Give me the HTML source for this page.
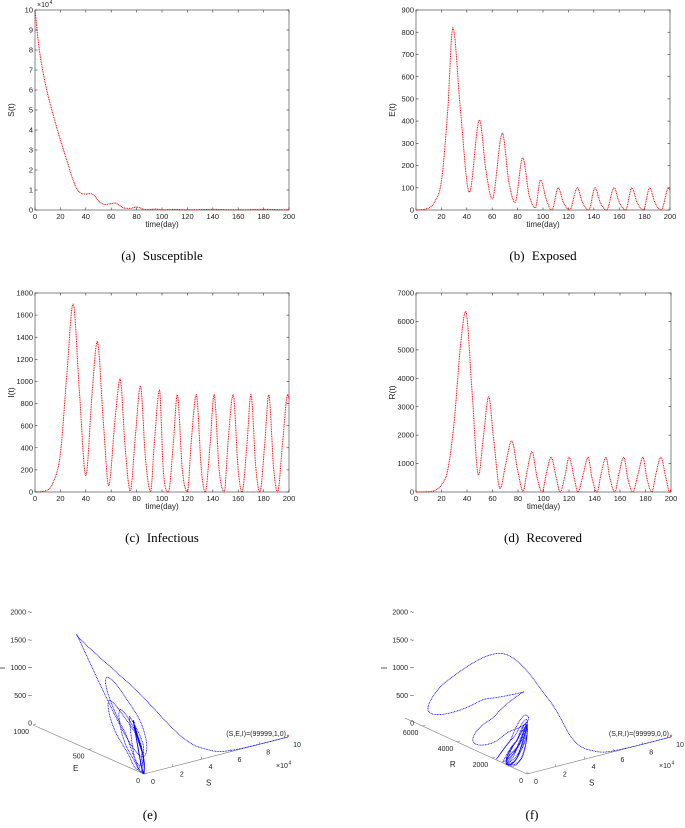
<!DOCTYPE html>
<html><head><meta charset="utf-8"><style>
html,body{margin:0;padding:0;background:#fff;}
svg{display:block;font-family:"Liberation Sans",sans-serif;}
.cap{font-family:"Liberation Serif",serif;font-size:13px;word-spacing:4px;}
</style></head><body>
<svg id="fig" width="685" height="828" viewBox="0 0 685 828" xmlns="http://www.w3.org/2000/svg">
<text class="cap" x="162" y="260" text-anchor="middle">(a)  Susceptible</text>
<text class="cap" x="543" y="260" text-anchor="middle">(b)  Exposed</text>
<text class="cap" x="162" y="542" text-anchor="middle">(c)  Infectious</text>
<text class="cap" x="543" y="542" text-anchor="middle">(d)  Recovered</text>
<text class="cap" x="150" y="819" text-anchor="middle">(e)</text>
<text class="cap" x="532" y="819" text-anchor="middle">(f)</text>
</svg>
<script>
const sTimes=[0,3,6,10,15,20,25,30,33,36,40,44,47,50,55,60,63,66,70,75,80,83,86,90,95,100,110,120,140,160,180,200];
const sVals=[10,8.2,7,5.8,4.6,3.5,2.5,1.5,1.05,0.85,0.8,0.82,0.7,0.45,0.28,0.32,0.35,0.25,0.1,0.08,0.15,0.1,0.02,0.02,0.05,0.01,0.03,0.01,0.03,0.01,0.03,0.01];
const eTimes=[0,8,15,20,25,29,35,42,50,55,60,68,73,78,84,89,94,98,103,107,112,116,121,127,131,136,141,145,150,156,160,165,170,174,179,184,188,193,199,200];
const eVals=[0,5,40,130,450,820,450,80,405,180,50,345,130,35,235,70,10,135,40,0,100,35,0,100,35,0,100,35,0,100,35,0,100,35,0,100,35,0,100,85];
const iTimes=[0,8,14,20,25,30,35,40,45,49,54,58,63,67,71,75,79,83,87,91,94,98,101,105,109,112,116,120,123,127,131,134,138,141,145,149,152,156,160,163,167,170,174,177,181,184,188,191,195,199,200];
const iVals=[0,10,80,350,1050,1700,900,150,900,1360,600,60,650,1020,400,10,500,960,300,5,450,920,200,0,450,880,200,0,450,880,200,0,450,880,200,0,450,880,200,0,450,880,200,0,450,880,200,0,450,880,840];
const rTimes=[0,10,15,20,25,30,35,39,44,49,53,57,61,66,70,75,80,84,87,91,95,99,102,106,110,113,117,120,124,127,131,135,138,142,145,149,152,156,159,163,166,170,174,178,181,185,188,192,196,199,200];
const rVals=[0,10,60,250,800,2500,5200,6350,3500,600,2000,3350,1800,120,900,1800,700,30,700,1420,500,0,600,1220,500,0,600,1220,500,0,600,1220,500,0,600,1220,500,0,600,1220,500,0,600,1220,500,0,600,1220,500,0,100];
const NS="http://www.w3.org/2000/svg";
const fig=document.getElementById('fig');
function el(tag,attrs,parent,txt){const e=document.createElementNS(NS,tag);for(const k in attrs)e.setAttribute(k,attrs[k]);if(txt!==undefined)e.textContent=txt;(parent||fig).appendChild(e);return e;}
function interp(T,V){const n=T.length,d=[],m=[];for(let i=0;i<n-1;i++)d.push((V[i+1]-V[i])/(T[i+1]-T[i]));
m[0]=d[0];m[n-1]=d[n-2];for(let i=1;i<n-1;i++){m[i]=(d[i-1]*d[i]<=0)?0:(d[i-1]+d[i])/2;}
for(let i=0;i<n-1;i++){if(d[i]===0){m[i]=0;m[i+1]=0;continue;}const a=m[i]/d[i],b=m[i+1]/d[i],s=a*a+b*b;if(s>9){const t=3/Math.sqrt(s);m[i]=t*a*d[i];m[i+1]=t*b*d[i];}}
return function(t){let i=0;while(i<n-2&&t>T[i+1])i++;const h=T[i+1]-T[i],u=(t-T[i])/h,u2=u*u,u3=u2*u;
return (2*u3-3*u2+1)*V[i]+(u3-2*u2+u)*h*m[i]+(-2*u3+3*u2)*V[i+1]+(u3-u2)*h*m[i+1];};}
const fS=interp(sTimes,sVals),fE=interp(eTimes,eVals),fI=interp(iTimes,iVals),fR=interp(rTimes,rVals);
function chart(name,x0,y0,x1,y1,ymax,ystep,f,ylab,yfmt){
 const g=el('g',{},fig);
 const xs=t=>x0+(x1-x0)*t/200, ys=v=>y1-(y1-y0)*v/ymax;
 el('rect',{x:x0,y:y0,width:x1-x0,height:y1-y0,fill:'none',stroke:'#333','stroke-width':0.6},g);
 for(let t=0;t<=200;t+=20){const x=xs(t);el('line',{x1:x,x2:x,y1:y1,y2:y1-2.5,stroke:'#333','stroke-width':0.6},g);el('line',{x1:x,x2:x,y1:y0,y2:y0+2.5,stroke:'#333','stroke-width':0.6},g);
  const tx=el('text',{x:x,y:y1+9,'font-size':7.5,'text-anchor':'middle',fill:'#222'},g,String(t));}
 for(let v=0;v<=ymax+1e-9;v+=ystep){const y=ys(v);el('line',{x1:x0,x2:x0+2.5,y1:y,y2:y,stroke:'#333','stroke-width':0.6},g);el('line',{x1:x1,x2:x1-2.5,y1:y,y2:y,stroke:'#333','stroke-width':0.6},g);
  const tx=el('text',{x:x0-2,y:y+2.6,'font-size':7.5,'text-anchor':'end',fill:'#222'},g,yfmt?yfmt(v):String(v));}
 const xl=el('text',{x:(x0+x1)/2,y:y1+17,'font-size':8,'text-anchor':'middle',fill:'#222'},g,'time(day)');
 const yl=el('text',{x:0,y:0,'font-size':8.5,'text-anchor':'middle',fill:'#222',transform:`translate(${x0-21},${(y0+y1)/2}) rotate(-90)`},g,ylab);
 let p='';for(let t=0;t<=200;t+=0.25){p+=(t?'L':'M')+xs(t).toFixed(1)+','+ys(Math.max(0,f(t))).toFixed(1);}
 const pl=el('path',{d:p,fill:'none',stroke:'#f00','stroke-width':1,'stroke-dasharray':'1 0.7'},g);
 return g;}
const ga=chart('chart-susceptible',35,10,289,210,10,1,fS,'S(t)',v=>String(Math.round(v)));
const ex1=el('text',{x:37,y:7,'font-size':7,fill:'#222'},ga,'×10');


el('text',{x:49.5,y:4,'font-size':5,fill:'#222'},ga,'4');
chart('chart-exposed',416,10,670,210,900,100,fE,'E(t)');
chart('chart-infectious',35,293,289,492,1800,200,fI,'I(t)');
chart('chart-recovered',416,293,671,492,7000,1000,fR,'R(t)');
function chart3(name,ox,oy,fY,yMax,yTicks,yLab,label,lx,ioff){
 const g=el('g',{},fig);
 const P=(s,y,i)=>[ox+144*s/1e5-(lx.dx)*y/yMax, oy-37*s/1e5-(lx.dy)*y/yMax-111*i/2000];
 const ax=(a,b)=>{const A=P(...a),B=P(...b);el('line',{x1:A[0],y1:A[1],x2:B[0],y2:B[1],stroke:'#777','stroke-width':0.6},g);};
 ax([0,0,0],[1e5,0,0]);ax([0,0,0],[0,yMax,0]);
 for(let s=0;s<=10;s+=2){const A=P(s*1e4,0,0);el('line',{x1:A[0],y1:A[1],x2:A[0],y2:A[1]-2.5,stroke:'#777','stroke-width':0.6},g);
  const t=el('text',{x:A[0]+9,y:A[1]+10,'font-size':7,'text-anchor':'middle',fill:'#222'},g,String(s));}
 const ex=P(1e5,0,0);el('text',{x:ex[0]-12,y:ex[1]+31,'font-size':7,fill:'#222'},g,'×10');el('text',{x:ex[0]+0.5,y:ex[1]+27.5,'font-size':5,fill:'#222'},g,'4');
 const sl=P(5e4,0,0);const stl=el('text',{x:sl[0]-10,y:sl[1]+30,'font-size':8,fill:'#222'},g,'S');
 for(const v of yTicks){const A=P(0,v,0);el('line',{x1:A[0],y1:A[1],x2:A[0]+3,y2:A[1]-1,stroke:'#777','stroke-width':0.6},g);
  const t=el('text',{x:A[0]-4,y:A[1]+9,'font-size':7,'text-anchor':'end',fill:'#222'},g,String(v));}
 const yl=P(0,yMax*0.55,0);const ytl=el('text',{x:yl[0]-10,y:yl[1]+24,'font-size':8,fill:'#222'},g,yLab);
 const top=P(0,yMax,0);const tx0=top[0]+ioff, ty0=723;
 for(let i=0;i<=2000;i+=500){const t=el('text',{x:tx0-3,y:ty0-111*i/2000+2.5,'font-size':7,'text-anchor':'end',fill:'#222'},g,String(i)+(i?' ~':''));}
 const il=el('text',{x:0,y:0,'font-size':8,'text-anchor':'middle',fill:'#222',transform:`translate(${tx0-30},${ty0-55}) rotate(-90)`},g,'I');
 let p='';for(let t=0;t<=200;t+=0.2){const q=P(Math.max(0,fS(t))*1e4,Math.max(0,fY(t)),Math.max(0,fI(t)));p+=(t?'L':'M')+q[0].toFixed(1)+','+q[1].toFixed(1);}
 const pl=el('path',{d:p,fill:'none',stroke:'#00f','stroke-width':0.8,'stroke-dasharray':'1 0.6'},g);
 const st=P(99999,0,0);const mk=el('text',{x:st[0],y:st[1]+2.5,'font-size':7,'text-anchor':'middle',fill:'#f00'},g,'*');
 const an=el('text',{x:st[0]-2,y:st[1]-1,'font-size':7,'text-anchor':'end',fill:'#222'},g,label);
}
chart3('phase-sei',144,774,fE,1000,[1000,500,0],'E','(S,E,I)=(99999,1,0)',{dx:111,dy:49},2);
chart3('phase-sri',527,774,fR,7000,[6000,4000,2000,0],'R','(S,R,I)=(99999,0,0)',{dx:122,dy:56},12);
</script>
</body></html>
